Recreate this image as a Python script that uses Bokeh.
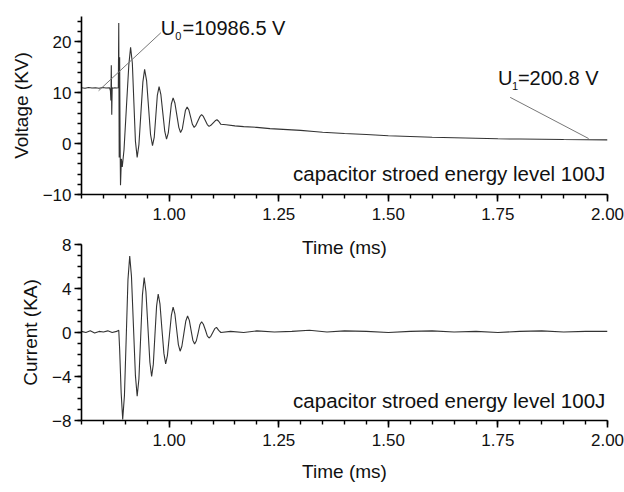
from bokeh.plotting import figure
from bokeh.layouts import column
from bokeh.models import FixedTicker, Range1d, Label, ColumnDataSource, NumeralTickFormatter
from bokeh.embed import file_html
from bokeh.resources import INLINE

FONT = "Liberation Sans"

# ---------------- data ----------------
# Voltage trace (kV) vs time (ms)
volt_t = [0.800, 0.808, 0.816, 0.824, 0.832, 0.840, 0.848, 0.856, 0.864, 0.866,
          0.867, 0.868, 0.869, 0.870, 0.871, 0.876, 0.880, 0.884, 0.885, 0.8855,
          0.886, 0.887, 0.888, 0.889, 0.891, 0.893,
          0.897, 0.9025, 0.908, 0.912, 0.916, 0.9195, 0.923, 0.927,
          0.931, 0.9355, 0.940, 0.944, 0.9485, 0.953, 0.9575, 0.962,
          0.966, 0.9695, 0.973, 0.977, 0.981, 0.9855, 0.990, 0.994,
          0.998, 1.0015, 1.005, 1.009, 1.013, 1.0175, 1.022, 1.026,
          1.030, 1.0335, 1.037, 1.041, 1.045, 1.049, 1.053, 1.057,
          1.061, 1.0655, 1.070, 1.074, 1.078, 1.0825, 1.087, 1.091,
          1.095, 1.100, 1.105, 1.109, 1.113, 1.118,
          1.130, 1.150, 1.170, 1.200, 1.230, 1.260, 1.300, 1.330, 1.350,
          1.400, 1.450, 1.500, 1.550, 1.600, 1.650, 1.700, 1.750, 1.800, 1.850,
          1.900, 1.950, 2.000]
volt_kv = [11.0, 10.9, 11.05, 10.95, 11.0, 10.9, 11.05, 10.95, 11.0, 10.4,
           8.5, 15.4, 5.7, 11.0, 10.9, 11.0, 10.95, 11.0, 23.7, 10.9,
           -2.7, 17.0, 0.6, -8.2, -3.0, -4.6,
           -1.2, 7.2, 15.5, 18.95, 15.8, 8.1, 0.5, -2.7,
           -0.2, 6.0, 12.1, 14.6, 12.4, 7.1, 1.8, -0.4,
           1.3, 5.4, 9.5, 11.2, 9.7, 6.05, 2.4, 0.9,
           2.1, 4.95, 7.8, 9.0, 8.0, 5.6, 3.2, 2.2,
           2.9, 4.7, 6.5, 7.2, 6.6, 5.2, 3.8, 3.2,
           3.6, 4.45, 5.3, 5.7, 5.35, 4.55, 3.75, 3.4,
           3.6, 4.05, 4.5, 4.7, 4.4, 3.8,
           3.7, 3.5, 3.35, 3.2, 2.95, 2.8, 2.6, 2.4, 2.25,
           2.0, 1.8, 1.55, 1.4, 1.25, 1.15, 1.05, 0.95, 0.9, 0.85,
           0.8, 0.78, 0.75]

# Current trace (kA) vs time (ms)
curr_t = [0.800, 0.810, 0.820, 0.830, 0.840, 0.850, 0.860, 0.870, 0.880, 0.885,
          0.887, 0.8905, 0.894, 0.898, 0.902, 0.906, 0.910,
          0.914, 0.9185, 0.923, 0.927, 0.931, 0.935, 0.939, 0.943,
          0.947, 0.9515, 0.956, 0.960, 0.9638, 0.9675, 0.9713, 0.975,
          0.979, 0.9835, 0.988, 0.992, 0.996, 1.0005, 1.005, 1.009,
          1.013, 1.017, 1.021, 1.025, 1.029, 1.0335, 1.038, 1.042,
          1.046, 1.050, 1.054, 1.058, 1.062, 1.066, 1.070, 1.074,
          1.078, 1.0825, 1.087, 1.091, 1.095, 1.0995, 1.104, 1.108,
          1.113, 1.118, 1.140, 1.170, 1.200, 1.240, 1.280,
          1.320, 1.360, 1.400, 1.450, 1.500, 1.550, 1.600, 1.650, 1.700, 1.750,
          1.800, 1.850, 1.900, 1.950, 2.000]
curr_ka = [0.1, 0.0, 0.15, -0.05, 0.1, 0.05, 0.15, 0.0, 0.1, 0.2,
           -1.5, -5.5, -7.9, -5.7, -0.5, 4.8, 6.95,
           5.1, 0.6, -3.9, -5.8, -4.2, -0.4, 3.4, 5.0,
           3.7, 0.5, -2.7, -4.0, -2.9, -0.25, 2.4, 3.5,
           2.6, 0.3, -1.9, -2.85, -2.1, -0.3, 1.55, 2.3,
           1.7, 0.3, -1.1, -1.7, -1.25, -0.1, 1.05, 1.5,
           1.1, 0.2, -0.7, -1.05, -0.75, -0.05, 0.7, 0.98,
           0.75, 0.25, -0.3, -0.5, -0.35, 0.0, 0.35, 0.47,
           0.2, 0.0, 0.1, 0.0, 0.15, 0.05, 0.1,
           0.2, 0.05, 0.15, 0.1, 0.0, 0.1, 0.15, 0.05, 0.1, 0.0,
           0.1, 0.15, 0.05, 0.1, 0.1]

# axes / ticks
x_major = [1.00, 1.25, 1.50, 1.75, 2.00]
x_minor = [0.80, 0.85, 0.90, 0.95, 1.00, 1.05, 1.10, 1.15, 1.20, 1.25, 1.30, 1.35,
           1.40, 1.45, 1.50, 1.55, 1.60, 1.65, 1.70, 1.75, 1.80, 1.85, 1.90, 1.95, 2.00]
v_major = [-10, 0, 10, 20]
v_minor = [-10, -8, -6, -4, -2, 0, 2, 4, 6, 8, 10, 12, 14, 16, 18, 20, 22, 24]
i_major = [-8, -4, 0, 4, 8]
i_minor = [-8, -7, -6, -5, -4, -3, -2, -1, 0, 1, 2, 3, 4, 5, 6, 7, 8]

x_title = "Time (ms)"
v_title = "Voltage (KV)"
i_title = "Current (KA)"
note = "capacitor stroed energy level 100J"
u0_value = "=10986.5 V"
u1_value = "=200.8 V"

# annotation anchors (data units)
note_x = 1.995
note_y_top = -5.9
note_y_bot = -6.2
u0_x, u0_y = 0.981, 22.8
u1_x, u1_y = 1.750, 12.9
u0_lead = ([0.839, 0.981], [10.4, 21.8])
u1_lead = ([1.778, 1.957], [9.1, 1.0])


def style(p, ymajor, yminor, ylabel, title_standoff):
    p.xaxis.ticker = FixedTicker(ticks=x_major, minor_ticks=x_minor)
    p.yaxis.ticker = FixedTicker(ticks=ymajor, minor_ticks=yminor)
    p.xaxis.formatter = NumeralTickFormatter(format="0.00")
    p.xaxis.axis_label = x_title
    p.yaxis.axis_label = ylabel
    for ax in (p.xaxis[0], p.yaxis[0]):
        ax.axis_line_color = "black"
        ax.axis_line_width = 1.6
        ax.major_tick_line_color = "black"
        ax.major_tick_line_width = 1.6
        ax.minor_tick_line_color = "black"
        ax.minor_tick_line_width = 1.4
        ax.major_tick_out = 7
        ax.major_tick_in = 0
        ax.minor_tick_out = 4
        ax.minor_tick_in = 0
        ax.major_label_text_font = FONT
        ax.major_label_text_font_size = "17px"
        ax.major_label_text_color = "#111111"
        ax.axis_label_text_font = FONT
        ax.axis_label_text_font_size = "19px"
        ax.axis_label_text_font_style = "normal"
        ax.axis_label_text_color = "#111111"
    p.xaxis.major_label_standoff = 6
    p.xaxis.axis_label_standoff = title_standoff
    p.yaxis.major_label_standoff = 3
    p.yaxis.axis_label_standoff = 8
    p.xgrid.visible = False
    p.ygrid.visible = False
    p.outline_line_color = None
    p.border_fill_color = None
    p.background_fill_color = None


def note_label(y):
    return Label(x=note_x, y=y, text=note, text_align="right",
                 text_baseline="alphabetic", text_font=FONT,
                 text_font_size="20.5px", text_color="#111111")


# ---------------- top: voltage ----------------
p1 = figure(frame_width=526, frame_height=178, output_backend="svg", toolbar_location=None,
            x_range=Range1d(0.8, 2.0), y_range=Range1d(-10, 25),
            min_border_left=81, min_border_right=17, min_border_top=16,
            min_border_bottom=76)
style(p1, v_major, v_minor, v_title, 14)
p1.line(x="t", y="v", source=ColumnDataSource(dict(t=volt_t, v=volt_kv)),
        line_color="#333333", line_width=1.1)
p1.line(x=u0_lead[0], y=u0_lead[1], line_color="#777777", line_width=1)
p1.line(x=u1_lead[0], y=u1_lead[1], line_color="#777777", line_width=1)
p1.add_layout(note_label(note_y_top))
for (xx, yy, val, sub, sx, vx) in ((u0_x, u0_y, u0_value, "0", 14.5, 21.7),
                                    (u1_x, u1_y, u1_value, "1", 14.0, 20.0)):
    p1.add_layout(Label(x=xx, y=yy, text="U", text_font=FONT, text_font_size="20px",
                        text_baseline="alphabetic", text_color="#111111"))
    p1.add_layout(Label(x=xx, y=yy, x_offset=sx, y_offset=-8, text=sub, text_font=FONT,
                        text_font_size="11px", text_baseline="alphabetic",
                        text_color="#111111"))
    p1.add_layout(Label(x=xx, y=yy, x_offset=vx, text=val, text_font=FONT,
                        text_font_size="20px", text_baseline="alphabetic",
                        text_color="#111111"))

# ---------------- bottom: current ----------------
p2 = figure(frame_width=526, frame_height=176, output_backend="svg", toolbar_location=None,
            x_range=Range1d(0.8, 2.0), y_range=Range1d(-8, 8),
            min_border_left=81, min_border_right=17, min_border_top=8,
            min_border_bottom=60, styles={"margin-top": "-34px"})
style(p2, i_major, i_minor, i_title, 12)
p2.line(x="t", y="i", source=ColumnDataSource(dict(t=curr_t, i=curr_ka)),
        line_color="#333333", line_width=1.1)
p2.add_layout(note_label(note_y_bot))

layout = column(p1, p2)
open("out.html", "w").write(file_html(layout, INLINE))
